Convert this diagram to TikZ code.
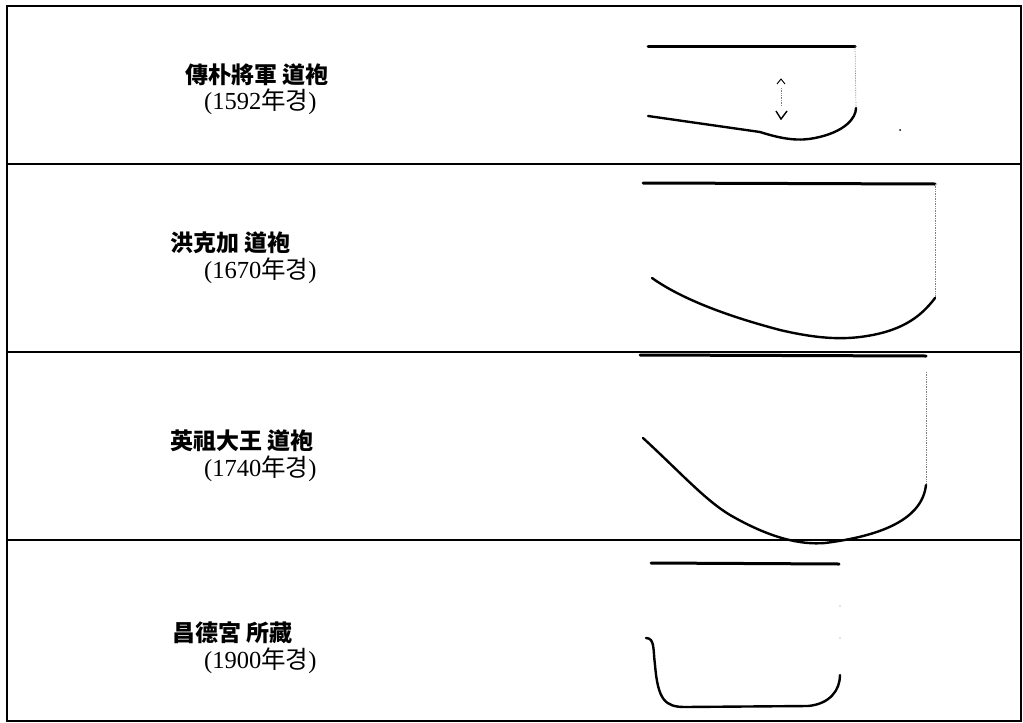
\documentclass[tikz,border=0pt]{standalone}
\usepackage{fontspec}
\newfontfamily\kr{Noto Sans CJK KR}
\newfontfamily\numfont{Liberation Serif}
\begin{document}
\begin{tikzpicture}[x=1pt,y=-1pt,
  frame/.style={line width=2.2pt},
  collar/.style={line width=3pt, line cap=round},
  hem/.style={line width=2.4pt, line cap=round},
  guide/.style={line width=0.7pt, densely dotted, gray},
  title/.style={font=\kr\bfseries\fontsize{23}{25}\selectfont, anchor=west, inner sep=0pt},
  year/.style={font=\numfont\fontsize{24.5}{26}\selectfont, anchor=west, inner sep=0pt}]
\useasboundingbox (0,0) rectangle (1023,723);

% table frame and row dividers
\draw[frame] (7,6) rectangle (1021,721);
\draw[frame] (7,164) -- (1021,164);
\draw[frame] (7,352) -- (1021,352);
\draw[frame] (7,540) -- (1021,540);

% row labels
\node[title] (t1) at (185,75) {傳朴將軍\ 道袍};
\node[year]  (y1) at (204,102) {(1592{\kr 年경})};
\node[title] (t2) at (170,243) {洪克加\ 道袍};
\node[year]  (y2) at (204,271) {(1670{\kr 年경})};
\node[title] (t3) at (170,441) {英祖大王\ 道袍};
\node[year]  (y3) at (204,469) {(1740{\kr 年경})};
\node[title] (t4) at (172,633) {昌德宮\ 所藏};
\node[year]  (y4) at (204,661) {(1900{\kr 年경})};

% 1592: collar line, side guide, hem curve
\coordinate (a1) at (648,46);
\coordinate (b1) at (855,46);
\coordinate (c1) at (856,108);
\coordinate (d1) at (648,116);
\draw[collar] (a1) -- (b1);
\draw[guide] (b1) -- (c1);
\draw[hem] (d1) -- (760,132) .. controls (785,140) and (800,141) .. (815,138)
  .. controls (845,132) and (856,118) .. (c1);
\coordinate (m1) at (781,78);
\coordinate (n1) at (781,119);
\draw[line width=0.9pt] (777,84) -- (781,79) -- (785,84);
\draw[line width=1.4pt] (776,111) -- (781,119) -- (787,111);
\draw[guide] (m1) ++(0,10) -- ++(0,18);
\fill (900,130) circle (1);

% 1670
\coordinate (a2) at (643,183);
\coordinate (b2) at (935,184);
\coordinate (c2) at (935,298);
\coordinate (d2) at (652,278);
\draw[collar] (a2) -- (b2);
\draw[guide] (b2) -- (c2);
\draw[hem] (d2) .. controls (690,305) and (750,322) .. (780,330)
  .. controls (810,337) and (835,340) .. (860,337)
  .. controls (900,332) and (920,318) .. (c2);

% 1740
\coordinate (a3) at (640,355);
\coordinate (b3) at (926,356);
\coordinate (c3) at (926,485);
\coordinate (d3) at (643,438);
\draw[collar] (a3) -- (b3);
\draw[guide] (926,372) -- (c3);
\draw[hem] (d3) .. controls (680,472) and (705,500) .. (730,515)
  .. controls (770,538) and (800,545) .. (825,543)
  .. controls (880,536) and (922,520) .. (c3);

% 1900
\coordinate (a4) at (651,563);
\coordinate (b4) at (839,564);
\coordinate (c4) at (840,675);
\coordinate (d4) at (646,638);
\draw[collar] (a4) -- (b4);
\fill[gray] (840,606) circle (0.7);
\fill[gray] (840,638) circle (0.7);
\draw[hem] (d4) .. controls (655,638) and (653,650) .. (655,665)
  .. controls (658,700) and (665,707) .. (685,707)
  -- (808,706) .. controls (830,704) and (840,690) .. (c4);
\end{tikzpicture}
\end{document}
